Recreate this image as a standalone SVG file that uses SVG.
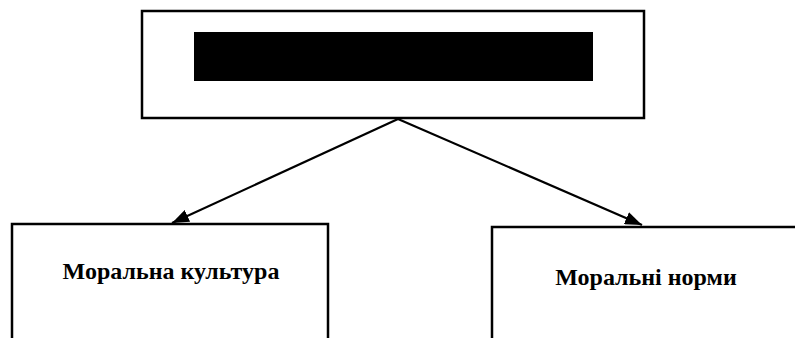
<svg xmlns="http://www.w3.org/2000/svg" width="795" height="338" viewBox="0 0 795 338">
<style>
.box{fill:#fff;stroke:#000;stroke-width:2.5}
.lbl{font-family:"Liberation Serif","Times New Roman",serif;font-weight:bold;font-size:24px;fill:#000;text-anchor:middle}
.conn{stroke:#000;stroke-width:2.2;fill:none}
</style>
<defs>
<marker id="arr" viewBox="0 0 17 13" refX="17" refY="6.5" markerWidth="17" markerHeight="13" markerUnits="userSpaceOnUse" orient="auto">
<path d="M0,0 L17,6.5 L0,13 z" fill="#000"/>
</marker>
</defs>
<rect width="795" height="338" fill="#fff"/>
<g id="top">
<rect class="box" x="142" y="11" width="502" height="107"/>
<rect x="194" y="32" width="399" height="49" fill="#000"/>
</g>
<g id="left">
<rect class="box" x="12" y="224" width="316" height="130"/>
<text class="lbl" x="171" y="279">Моральна культура</text>
</g>
<g id="right">
<rect class="box" x="492" y="227" width="320" height="130"/>
<text class="lbl" x="646" y="285">Моральні норми</text>
</g>
<g id="connectors">
<line class="conn" x1="398" y1="119" x2="172" y2="223" marker-end="url(#arr)"/>
<line class="conn" x1="398" y1="119" x2="642" y2="225" marker-end="url(#arr)"/>
</g>
</svg>
